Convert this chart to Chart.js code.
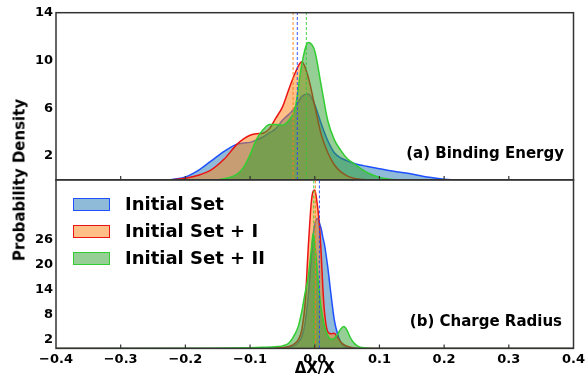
<!DOCTYPE html>
<html>
<head>
<meta charset="utf-8">
<script src="https://cdn.jsdelivr.net/npm/chart.js@4.4.1/dist/chart.umd.min.js"></script>
<style>
  html, body { margin:0; padding:0; background:#fff; }
  #wrap { position:relative; width:585px; height:381px; overflow:hidden; font-family:'DejaVu Sans', sans-serif; font-weight:bold; color:#000; }
  canvas { position:absolute; left:0; }
  .lbl { position:absolute; white-space:nowrap; line-height:1; }
  .box { position:absolute; width:35px; height:11px; border-width:1.5px; border-style:solid; }
</style>
</head>
<body>
<div id="wrap">
  <canvas id="top" width="585" height="181" style="top:0"></canvas>
  <canvas id="bot" width="585" height="202" style="top:179px"></canvas>
  <div class="lbl" style="left:19.5px;top:180px;font-size:15px;transform:translate(-50%,-50%) rotate(-90deg);">Probability Density</div>
  <div class="lbl" id="labA" style="right:21px;top:146px;font-size:15px;">(a) Binding Energy</div>
  <div class="lbl" id="labB" style="right:23px;top:314px;font-size:15px;">(b) Charge Radius</div>
  <div id="legend"></div>
</div>
<script>
// ---------- DATA ----------
const seriesNames = ['Initial Set', 'Initial Set + I', 'Initial Set + II'];
const xTickValues = [-0.4, -0.3, -0.2, -0.1, 0.0, 0.1, 0.2, 0.3, 0.4];
const topYTicks = [2, 6, 10, 14];
const botYTicks = [2, 8, 14, 20, 26];

// (a) Binding Energy
const topX        = [-0.4,-0.24,-0.22,-0.2,-0.18,-0.16,-0.14,-0.12,-0.11,-0.1,-0.09,-0.08,-0.07,-0.06,-0.05,-0.04,-0.03,-0.02,-0.01,0,0.01,0.02,0.03,0.04,0.05,0.06,0.07,0.08,0.1,0.12,0.15,0.18,0.2,0.22,0.4];
const topInitial  = [0,0,0.05,0.25,0.8,1.6,2.4,3.0,3.1,3.15,3.35,3.6,3.95,4.3,5.0,5.5,6.1,7.0,7.2,6.3,4.7,3.3,2.3,1.85,1.6,1.4,1.25,1.15,0.95,0.75,0.5,0.2,0.06,0,0];
const topPlusI    = [0,0,0.03,0.15,0.4,0.85,1.75,3.0,3.45,3.75,3.87,3.92,4.3,5.2,6.1,7.6,9.0,9.9,8.6,6.2,3.8,2.3,1.3,0.7,0.35,0.15,0.07,0.03,0,0,0,0,0,0,0];
const topPlusII   = [0,0,0,0,0,0,0.1,0.5,1.05,2.1,3.4,4.2,4.65,4.65,4.6,5.0,6.1,9.7,11.5,10.8,7.9,5.0,3.4,2.5,1.8,1.4,1.0,0.65,0.22,0.05,0,0,0,0,0];
const topMeans    = [-0.027, -0.0335, -0.013];

// (b) Charge Radius
const botX        = [-0.4,-0.15,-0.1,-0.08,-0.06,-0.05,-0.04,-0.03,-0.025,-0.02,-0.015,-0.01,-0.0075,-0.005,-0.0025,0,0.0025,0.005,0.0075,0.01,0.0125,0.015,0.02,0.025,0.03,0.035,0.04,0.045,0.05,0.055,0.06,0.07,0.1,0.4];
const botInitial  = [0,0,0,0,0.05,0.15,0.35,0.8,1.5,2.8,6.0,12.5,17.5,22.5,27,29.5,30.8,31,29.8,28.5,26.5,24.8,19.5,13,7,3.6,1.5,0.6,0.25,0.1,0.04,0,0,0];
const botPlusI    = [0,0,0,0.02,0.08,0.2,0.45,1.3,2.2,4.5,10.5,24.2,30.4,35.4,37.5,37.8,36,33,28.8,22.5,14.5,8.8,4.0,3.5,3.6,2.7,1.6,0.9,0.5,0.25,0.12,0.03,0,0];
const botPlusII   = [0,0.05,0.15,0.25,0.4,0.6,1.3,3.6,5.5,8.8,13.2,17.2,20.5,24,27.4,25,21,16.5,12.6,9.5,7.2,5.3,3.1,2.2,2.4,3.3,4.6,5.2,4.3,2.6,1.4,0.3,0,0];
const botMeans    = [0.0072, 0.001, -0.0015];

// ---------- STYLE ----------
const fills  = ['rgba(31,119,180,0.5)', 'rgba(255,127,14,0.5)', 'rgba(44,160,44,0.5)'];
const lines  = ['rgb(30,80,255)', 'rgb(235,20,20)', 'rgb(50,205,50)'];
const dashC  = ['rgba(30,70,255,0.9)', 'rgba(255,127,14,0.9)', 'rgba(50,205,50,0.9)'];

Chart.defaults.font.family = "'DejaVu Sans', sans-serif";
Chart.defaults.font.weight = 'bold';
Chart.defaults.color = '#000';

function fmt(v) {
  const r = Math.round(v * 10) / 10;
  return (r < 0 ? '\u2212' : '') + Math.abs(r).toFixed(1);
}

const framePlugin = {
  id: 'frame',
  afterDraw(chart) {
    const ctx = chart.ctx, a = chart.chartArea, xs = chart.scales.x;
    ctx.save();
    ctx.strokeStyle = '#333';
    ctx.lineWidth = 1.5;
    ctx.strokeRect(a.left, a.top, a.right - a.left, a.bottom - a.top);
    ctx.lineWidth = 1.2;
    ctx.beginPath();
    xTickValues.forEach(v => {
      const px = xs.getPixelForValue(v);
      if (px > a.left + 1 && px < a.right - 1) {
        ctx.moveTo(px, a.bottom);
        ctx.lineTo(px, a.bottom - 4);
      }
    });
    ctx.stroke();
    ctx.restore();
  }
};

function makeDatasets(xArr, ys, means, yTop) {
  const ds = [];
  ys.forEach((arr, i) => {
    ds.push({
      label: seriesNames[i],
      data: xArr.map((x, k) => ({x: x, y: arr[k]})),
      fill: 'origin',
      backgroundColor: fills[i],
      borderColor: lines[i],
      borderWidth: 1.5,
      pointRadius: 0,
      cubicInterpolationMode: 'monotone',
      order: 3 - i + 1
    });
  });
  means.forEach((m, i) => {
    ds.push({
      label: seriesNames[i] + ' mean',
      data: [{x: m, y: 0}, {x: m, y: yTop}],
      fill: false,
      borderColor: dashC[i],
      borderWidth: 1,
      borderDash: [3, 2],
      pointRadius: 0,
      order: 0
    });
  });
  return ds;
}

function yScale(max, ticks) {
  return {
    type: 'linear', min: 0, max: max,
    grid: {display: false, drawTicks: false},
    border: {display: false},
    ticks: {font: {size: 13, weight: 'bold'}, padding: 3, color: '#000'},
    afterBuildTicks(s) { s.ticks = ticks.map(v => ({value: v})); },
    afterFit(s) { s.width = 56; s.paddingTop = 0; s.paddingBottom = 0; }
  };
}

new Chart(document.getElementById('top'), {
  type: 'line',
  data: {datasets: makeDatasets(topX, [topInitial, topPlusI, topPlusII], topMeans, 14)},
  options: {
    responsive: false, animation: false, devicePixelRatio: 1,
    layout: {padding: {left: 0, right: 11.5, top: 12.7, bottom: 1}},
    plugins: {legend: {display: false}, tooltip: {enabled: false}},
    scales: {
      x: {type: 'linear', min: -0.4, max: 0.4, display: false},
      y: yScale(14, topYTicks)
    }
  },
  plugins: [framePlugin]
});

const botMax = 40.3;
new Chart(document.getElementById('bot'), {
  type: 'line',
  data: {datasets: makeDatasets(botX, [botInitial, botPlusI, botPlusII], botMeans, botMax)},
  options: {
    responsive: false, animation: false, devicePixelRatio: 1,
    layout: {padding: {left: 0, right: 11.5, top: 0.5, bottom: 0}},
    plugins: {legend: {display: false}, tooltip: {enabled: false}},
    scales: {
      x: {
        type: 'linear', min: -0.4, max: 0.4,
        grid: {display: false, drawTicks: false},
        border: {display: false},
        ticks: {stepSize: 0.1, font: {size: 13, weight: 'bold'}, padding: 3, color: '#000', maxRotation: 0,
                callback: v => fmt(v)},
        afterBuildTicks(s) { s.ticks = xTickValues.map(v => ({value: v})); },
        title: {display: true, text: '\u0394X/X', font: {size: 15, weight: 'bold'}, color: '#000', padding: {top: 0, bottom: 3}},
        afterFit(s) { s.height = 32.6; s.paddingLeft = 0; s.paddingRight = 0; }
      },
      y: yScale(botMax, botYTicks)
    }
  },
  plugins: [framePlugin]
});

// legend (HTML)
const leg = document.getElementById('legend');
const rowTop = [197.5, 224.8, 252.2];
seriesNames.forEach((n, i) => {
  const b = document.createElement('div');
  b.className = 'box';
  b.style.left = '72.5px';
  b.style.top = rowTop[i] + 'px';
  b.style.background = fills[i];
  b.style.borderColor = lines[i];
  leg.appendChild(b);
  const t = document.createElement('div');
  t.className = 'lbl';
  t.style.left = '125px';
  t.style.top = (rowTop[i] - 3) + 'px';
  t.style.fontSize = '18px';
  t.textContent = n;
  leg.appendChild(t);
});
</script>
</body>
</html>
